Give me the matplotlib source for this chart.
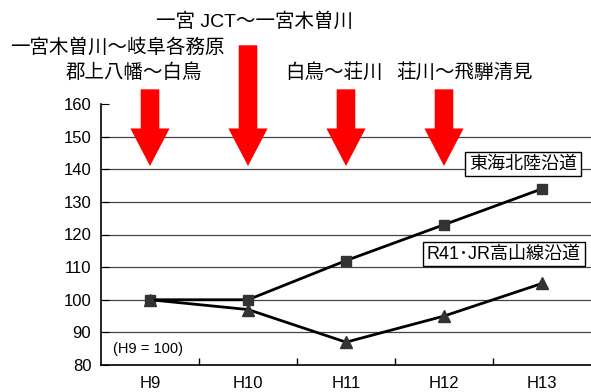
import matplotlib
matplotlib.use("Agg")
import matplotlib.pyplot as plt
from matplotlib.patches import Polygon

plt.rcParams['font.family'] = ['Liberation Sans', 'Noto Sans CJK JP', 'DejaVu Sans']

# Data
years = ["H9", "H10", "H11", "H12", "H13"]
tokai_hokuriku = [100, 100, 112, 123, 134]
r41_jr_takayama = [100, 97, 87, 95, 105]

# Section openings marked with arrows (category index)
arrow_idx = [0, 1, 2, 3]
arrow_top = [164.5, 178.0, 164.5, 164.5]

W, H = 591, 392
fig = plt.figure(figsize=(W / 100, H / 100), dpi=100)
ax = fig.add_axes([101 / W, (H - 365) / H, (591 - 101) / W, (365 - 104) / H])

x = list(range(len(years)))
ax.set_xlim(-0.5, len(years) - 0.5)
ax.set_ylim(80, 160)

# Horizontal gridlines
for v in range(90, 160, 10):
    ax.axhline(v, color="#444444", lw=0.9, zorder=1)

ax.plot(x, tokai_hokuriku, color="black", lw=2, marker="s", ms=7,
        mfc="#333333", mec="#333333", zorder=4)
ax.plot(x, r41_jr_takayama, color="black", lw=2, marker="^", ms=8,
        mfc="#333333", mec="#333333", zorder=4)

# Red arrows
shaft_hw, head_hw = 0.095, 0.2
head_base, tip = 152.5, 141.0
for i, top in zip(arrow_idx, arrow_top):
    pts = [(i - shaft_hw, top), (i + shaft_hw, top), (i + shaft_hw, head_base),
           (i + head_hw, head_base), (i, tip), (i - head_hw, head_base),
           (i - shaft_hw, head_base)]
    ax.add_patch(Polygon(pts, closed=True, fc="red", ec="none",
                         clip_on=False, zorder=5))

# Axes styling
for s in ["top", "right"]:
    ax.spines[s].set_visible(False)
ax.spines["left"].set_linewidth(1.2)
ax.spines["bottom"].set_linewidth(1.2)
ax.set_yticks(range(80, 161, 10))
ax.tick_params(axis="y", direction="in", length=6, labelsize=12, pad=7)
ax.set_xticks(x)
ax.set_xticklabels(years)
ax.set_xticks([i + 0.5 for i in range(len(years) - 1)], minor=True)
ax.tick_params(axis="x", which="major", length=0, labelsize=12, pad=8)
ax.tick_params(axis="x", which="minor", direction="in", length=5, width=1)

# Series labels in boxes
box = dict(boxstyle="square,pad=0.2", fc="white", ec="black", lw=1)
ax.text(3.806, 141.6, "東海北陸沿道", ha="center", va="center", fontsize=13,
        bbox=box, zorder=6)
ax.text(3.612, 114.0, "R41･JR高山線沿道", ha="center", va="center", fontsize=13,
        bbox=box, zorder=6)
ax.text(-0.38, 84.9, "(H9 = 100)", ha="left", va="center", fontsize=10.5)

# Opening section labels above the plot
def ftext(px, py, s, **kw):
    fig.text(px / W, 1 - py / H, s, ha="center", va="center", fontsize=14, **kw)

ftext(117, 48, "一宮木曽川～岐阜各務原")
ftext(134, 73, "郡上八幡～白鳥")
ftext(255, 22, "一宮 JCT～一宮木曽川")
ftext(334, 72, "白鳥～荘川")
ftext(465, 72, "荘川～飛騨清見")

fig.savefig("out.png", dpi=100)
